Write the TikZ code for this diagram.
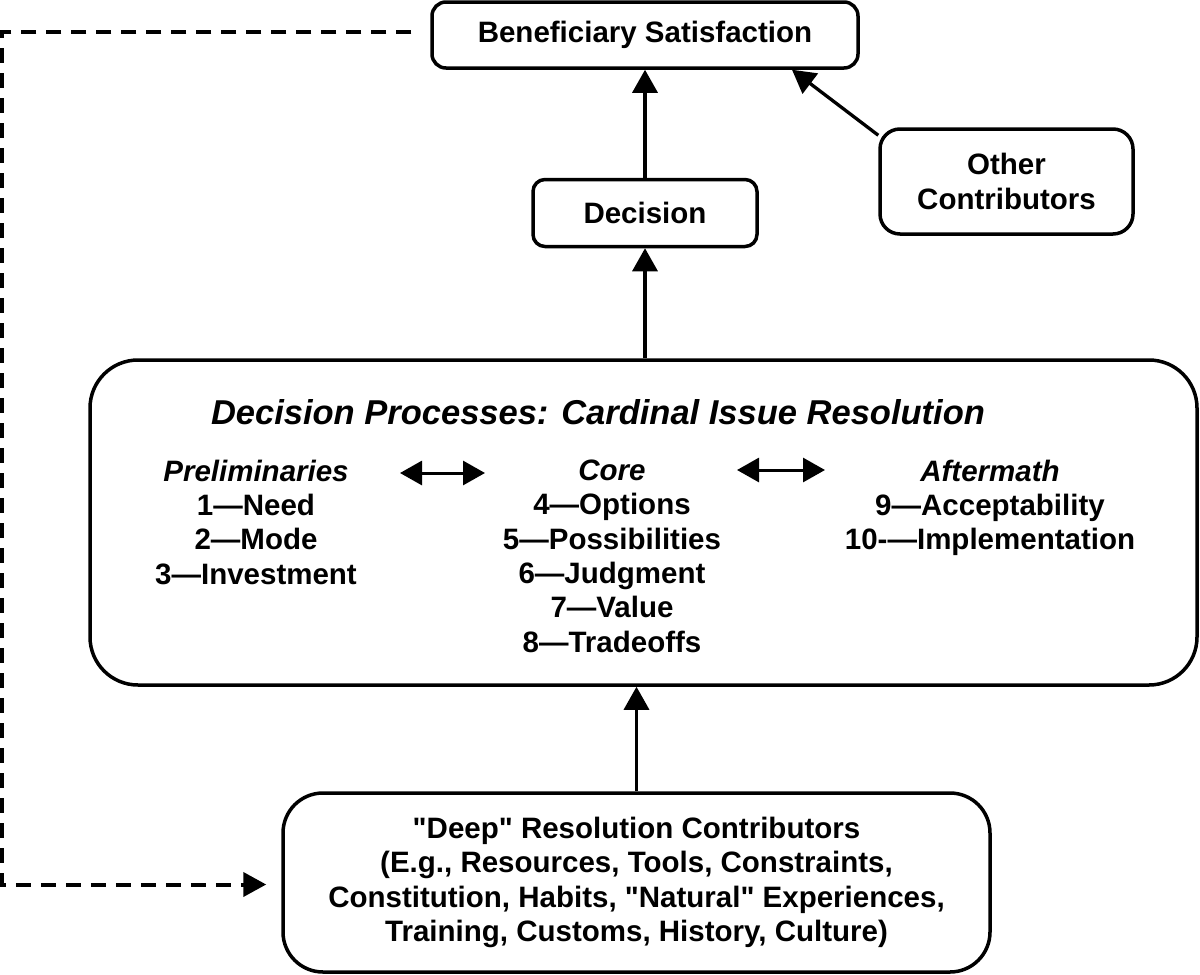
\documentclass[tikz,border=0pt]{standalone}
\usepackage{fontspec}
\setmainfont{Liberation Sans}[Ligatures=TeXOff]
\usetikzlibrary{arrows.meta}
\newcommand\dgbody{\bfseries\fontsize{29.5}{34.4}\selectfont}
\newcommand\dgtitle{\bfseries\itshape\fontsize{34.5}{40}\selectfont}
\begin{document}
\begin{tikzpicture}[x=1pt,y=-1pt,
  box/.style={draw, line width=3.5pt, rounded corners=#1, inner sep=0pt, align=center, font=\dgbody},
  col/.style={font=\dgbody, align=center, inner sep=0pt},
  arr/.style={line width=3.3pt, -{Triangle[length=23pt,width=25pt]}},
  darr/.style={line width=3pt, {Triangle[length=22pt,width=24pt]}-{Triangle[length=22pt,width=24pt]}},
  dashline/.style={line width=4pt, dash pattern=on 15pt off 10pt, -{Triangle[length=23pt,width=24pt]}}]
\useasboundingbox[fill=white] (0,0) rectangle (1200,975);

\node[box=14pt, minimum width=426pt, minimum height=66pt] (bs) at (645,35) {Beneficiary Satisfaction};
\node[box=12pt, minimum width=224pt, minimum height=67pt] (dec) at (645,213) {Decision};
\node[box=20pt, minimum width=253pt, minimum height=105pt] (oc) at (1006.5,181.5) {Other\\Contributors};
\node[box=48pt, minimum width=1107pt, minimum height=325pt] (big) at (643.5,522.5) {};
\node[box=40pt, minimum width=707pt, minimum height=179pt] (deep) at (636.5,882.5)
  {"Deep" Resolution Contributors\\(E.g., Resources, Tools, Constraints,\\Constitution, Habits, "Natural" Experiences,\\Training, Customs, History, Culture)};

\node[font=\dgtitle, inner sep=0pt] (title) at (598,412) {Decision Processes: Cardinal Issue Resolution};
\node[col, anchor=north] (pre) at (256,459.5) {\textit{Preliminaries}\\1—Need\\2—Mode\\3—Investment};
\node[col, anchor=north] (core) at (612,459.5) {\textit{Core}\\4—Options\\5—Possibilities\\6—Judgment\\7—Value\\8—Tradeoffs};
\node[col, anchor=north] (aft) at (990,459.5) {\textit{Aftermath}\\9—Acceptability\\10-—Implementation};

\coordinate (d1a) at (400,473);
\coordinate (d1b) at (485,473);
\coordinate (d2a) at (737,470);
\coordinate (d2b) at (825,470);
\draw[darr] (d1a) -- (d1b);
\draw[darr] (d2a) -- (d2b);

\draw[arr] (dec.north) -- (bs.south);
\draw[arr] (dec.south |- big.north) -- (dec.south);
\draw[arr] ([yshift=-8pt]oc.north west) -- ([xshift=147pt]bs.south);
\draw[arr] (deep.north) -- (deep.north |- big.south);
\draw[dashline] ([xshift=-19pt,yshift=3pt]bs.west) -- ++(-409pt,0pt) |- ([xshift=-15pt,yshift=-2pt]deep.west);
\end{tikzpicture}
\end{document}
